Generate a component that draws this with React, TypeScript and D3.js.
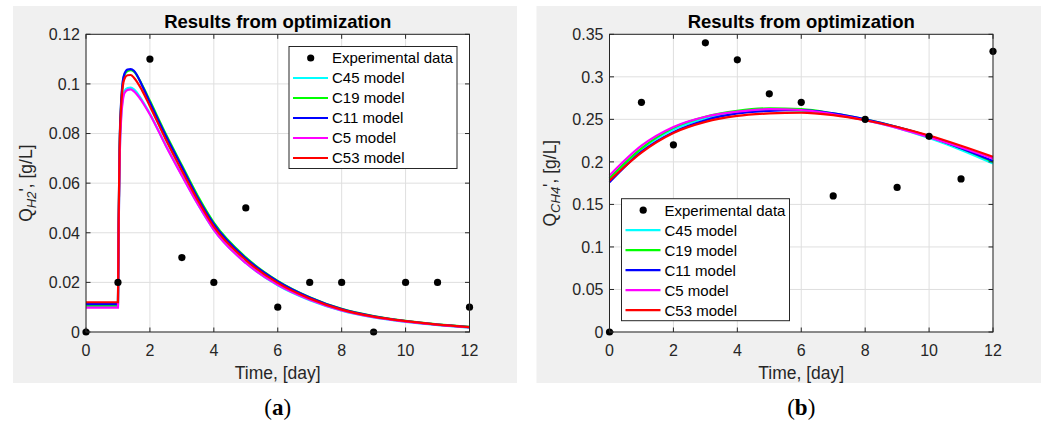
import React from 'react';
import * as d3 from 'd3';

// experimental points (one per day)
const days = [0, 1, 2, 3, 4, 5, 6, 7, 8, 9, 10, 11, 12];
const expH2 = [0, 0.02, 0.11, 0.03, 0.02, 0.05, 0.01, 0.02, 0.02, 0, 0.02, 0.02, 0.01];
const expCH4 = [0, 0.27, 0.22, 0.34, 0.32, 0.28, 0.27, 0.16, 0.25, 0.17, 0.23, 0.18, 0.33];

// model curves, H2 panel
const tH2 = [0, 1, 1.02, 1.05, 1.1, 1.15, 1.2, 1.3, 1.4, 1.5, 1.75, 2, 2.5, 3, 3.5, 4, 5, 6, 7, 8, 9, 10, 11, 12];
const h2C45 = [0.0102, 0.0102, 0.039, 0.068, 0.087, 0.094, 0.097, 0.0983, 0.0985, 0.0978, 0.0935, 0.088, 0.0752, 0.0632, 0.0515, 0.0412, 0.0278, 0.0188, 0.0128, 0.0086, 0.0059, 0.0041, 0.0028, 0.0017];
const h2C19 = [0.0106, 0.0106, 0.041, 0.072, 0.092, 0.1, 0.1035, 0.1052, 0.1055, 0.105, 0.0998, 0.0932, 0.0797, 0.0672, 0.0548, 0.0441, 0.0301, 0.0206, 0.014, 0.0093, 0.0064, 0.0045, 0.0031, 0.0021];
const h2C11 = [0.0112, 0.0112, 0.043, 0.074, 0.093, 0.101, 0.104, 0.1058, 0.106, 0.1053, 0.0995, 0.0925, 0.079, 0.0665, 0.054, 0.0435, 0.0297, 0.0204, 0.0139, 0.0092, 0.0063, 0.0044, 0.003, 0.002];
const h2C5 = [0.0098, 0.0098, 0.039, 0.067, 0.086, 0.093, 0.0962, 0.0976, 0.0978, 0.097, 0.093, 0.0877, 0.075, 0.063, 0.0515, 0.0412, 0.0278, 0.019, 0.013, 0.0087, 0.006, 0.0042, 0.0029, 0.0018];
const h2C53 = [0.012, 0.012, 0.044, 0.073, 0.091, 0.099, 0.102, 0.1035, 0.1036, 0.1025, 0.0975, 0.091, 0.0775, 0.065, 0.053, 0.0425, 0.029, 0.0198, 0.0135, 0.009, 0.0062, 0.0044, 0.003, 0.002];

// model curves, CH4 panel
const tCH4 = [0, 1, 2, 3, 4, 5, 6, 7, 8, 9, 10, 11, 12];
const ch4C45 = [0.18, 0.215, 0.238, 0.251, 0.258, 0.261, 0.26, 0.256, 0.249, 0.24, 0.228, 0.214, 0.198];
const ch4C19 = [0.181, 0.216, 0.24, 0.253, 0.26, 0.263, 0.262, 0.257, 0.25, 0.241, 0.23, 0.216, 0.2];
const ch4C11 = [0.176, 0.212, 0.235, 0.249, 0.257, 0.26, 0.261, 0.257, 0.25, 0.241, 0.23, 0.216, 0.201];
const ch4C5 = [0.184, 0.219, 0.241, 0.253, 0.259, 0.262, 0.261, 0.256, 0.249, 0.24, 0.229, 0.217, 0.204];
const ch4C53 = [0.178, 0.211, 0.234, 0.247, 0.254, 0.257, 0.258, 0.255, 0.249, 0.241, 0.231, 0.219, 0.206];

const modelNames = ['C45 model', 'C19 model', 'C11 model', 'C5 model', 'C53 model'];
const modelColors = ['#00ffff', '#00ff00', '#0000ff', '#ff00ff', '#ff0000'];

const xTicks = [0, 2, 4, 6, 8, 10, 12];
const yTicksH2 = [0, 0.02, 0.04, 0.06, 0.08, 0.1, 0.12];
const yTicksCH4 = [0, 0.05, 0.1, 0.15, 0.2, 0.25, 0.3, 0.35];

const FONT = 'Liberation Sans, Arial, sans-serif';
const INK = '#262626';

function Panel({ ox, bgW, yMax, yTicks, t, series, sub, legendX, legendY, caption }) {
    const left = ox + 73, right = ox + 456.5, top = 34.3, bottom = 332;
    const x = d3.scaleLinear().domain([0, 12]).range([left, right]);
    const y = d3.scaleLinear().domain([0, yMax]).range([bottom, top]);
    const line = d3.line().x((d) => x(d[0])).y((d) => y(d[1])).curve(d3.curveMonotoneX);
    const exp = sub === 'H2' ? expH2 : expCH4;
    const cx = (left + right) / 2;

    return (
        <g>
            <rect x={ox} y={6} width={bgW} height={377} fill="#f0f0f0" />
            <rect x={left} y={top} width={right - left} height={bottom - top} fill="#fff" />
            {xTicks.map((v) => (
                <line key={'gx' + v} x1={x(v)} x2={x(v)} y1={top} y2={bottom} stroke="#dfdfdf" />
            ))}
            {yTicks.map((v) => (
                <line key={'gy' + v} x1={left} x2={right} y1={y(v)} y2={y(v)} stroke="#dfdfdf" />
            ))}
            {series.map((s, i) => (
                <path key={'s' + i} d={line(t.map((tt, j) => [tt, s[j]]))}
                    fill="none" stroke={modelColors[i]} strokeWidth={2.2} />
            ))}
            {days.map((d, i) => (
                <circle key={'e' + i} cx={x(d)} cy={y(exp[i])} r={3.6} fill="#000" />
            ))}
            <rect x={left} y={top} width={right - left} height={bottom - top} fill="none" stroke={INK} strokeWidth={1} />
            {xTicks.map((v) => (
                <g key={'tx' + v}>
                    <line x1={x(v)} x2={x(v)} y1={bottom} y2={bottom - 4.5} stroke={INK} />
                    <line x1={x(v)} x2={x(v)} y1={top} y2={top + 4.5} stroke={INK} />
                    <text x={x(v)} y={355.5} textAnchor="middle" fontSize={16} fill={INK} fontFamily={FONT}>{v}</text>
                </g>
            ))}
            {yTicks.map((v) => (
                <g key={'ty' + v}>
                    <line x1={left} x2={left + 4.5} y1={y(v)} y2={y(v)} stroke={INK} />
                    <line x1={right} x2={right - 4.5} y1={y(v)} y2={y(v)} stroke={INK} />
                    <text x={left - 6} y={y(v)} dy="0.36em" textAnchor="end" fontSize={16} fill={INK} fontFamily={FONT}>{String(v)}</text>
                </g>
            ))}
            <text x={cx} y={27.5} textAnchor="middle" fontSize={18.5} fontWeight="bold" fill="#000" fontFamily={FONT}>Results from optimization</text>
            <text x={cx} y={379} textAnchor="middle" fontSize={17.5} fill={INK} fontFamily={FONT}>Time, [day]</text>
            <text transform={`translate(${left - 54},${(top + bottom) / 2}) rotate(-90)`} textAnchor="middle" fontSize={17.5} fill={INK} fontFamily={FONT}>
                Q<tspan dy={4} fontSize={13} fontStyle="italic">{sub}</tspan><tspan dy={-4}>', [g/L]</tspan>
            </text>
            <g transform={`translate(${legendX},${legendY})`}>
                <rect x={0} y={0} width={168} height={122} fill="#fff" stroke={INK} strokeWidth={1} />
                <circle cx={21.7} cy={11.5} r={3.6} fill="#000" />
                <text x={43} y={11.5} dy="0.36em" fontSize={15} fill="#000" fontFamily={FONT}>Experimental data</text>
                {modelNames.map((n, i) => (
                    <g key={n}>
                        <line x1={4} x2={39} y1={31.5 + i * 20} y2={31.5 + i * 20} stroke={modelColors[i]} strokeWidth={2.2} />
                        <text x={43} y={31.5 + i * 20} dy="0.36em" fontSize={15} fill="#000" fontFamily={FONT}>{n}</text>
                    </g>
                ))}
            </g>
            <text x={cx} y={415} textAnchor="middle" fontSize={23} fill="#000" fontFamily="Liberation Serif, serif">
                (<tspan fontWeight="bold">{caption}</tspan>)
            </text>
        </g>
    );
}

export default function App() {
    return (
        <svg width={1041} height={425} style={{ position: 'absolute', left: 0, top: 0, background: '#fff' }}>
            <Panel ox={13} bgW={504} yMax={0.12} yTicks={yTicksH2} t={tH2}
                series={[h2C45, h2C19, h2C11, h2C5, h2C53]} sub="H2"
                legendX={289} legendY={46.5} caption="a" />
            <Panel ox={536.5} bgW={505} yMax={0.35} yTicks={yTicksCH4} t={tCH4}
                series={[ch4C45, ch4C19, ch4C11, ch4C5, ch4C53]} sub="CH4"
                legendX={621.5} legendY={198.7} caption="b" />
        </svg>
    );
}
